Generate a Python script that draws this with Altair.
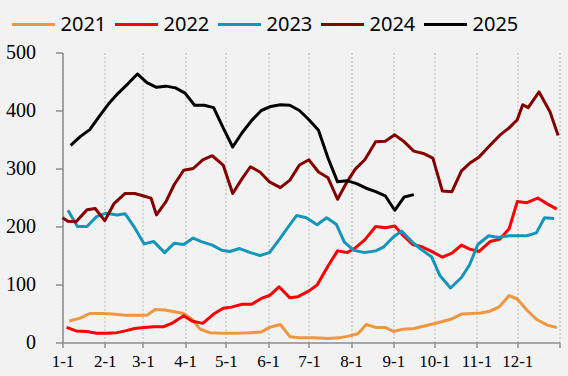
import altair as alt
import pandas as pd

years = ["2021", "2022", "2023", "2024", "2025"]
colors = ["#F0963F", "#FF0000", "#1495BA", "#850000", "#000000"]

# day of year (1-1 = 0) and values
d2021 = [5, 13, 20, 29, 37, 46, 54, 62, 68, 75, 82, 89, 95, 101, 108, 118, 128, 138, 146, 152, 160, 167, 174, 184, 195, 203, 210, 217, 223, 230, 237, 243, 250, 258, 265, 272, 277, 285, 293, 301, 307, 314, 321, 328, 334, 341, 348, 356, 363]
v2021 = [37, 42, 50, 50, 49, 47, 47, 47, 57, 56, 53, 50, 40, 23, 17, 16, 16, 17, 18, 26, 31, 10, 8, 8, 7, 8, 11, 15, 31, 26, 26, 19, 23, 24, 28, 32, 35, 40, 49, 50, 51, 54, 62, 81, 75, 56, 40, 30, 26]

d2022 = [3, 10, 18, 25, 32, 40, 46, 53, 60, 67, 74, 81, 89, 95, 103, 111, 118, 124, 132, 139, 146, 152, 159, 167, 173, 181, 187, 195, 202, 209, 215, 222, 230, 237, 244, 250, 257, 264, 271, 279, 286, 293, 299, 306, 314, 321, 328, 334, 341, 349, 356, 363]
v2022 = [26, 20, 19, 16, 16, 17, 20, 24, 26, 27, 27, 34, 46, 37, 33, 49, 59, 61, 66, 66, 76, 81, 96, 77, 79, 89, 99, 132, 158, 155, 163, 177, 200, 198, 201, 185, 169, 165, 157, 147, 154, 168, 161, 157, 174, 178, 196, 243, 241, 249, 239, 230]

d2023 = [4, 11, 18, 25, 32, 40, 46, 53, 60, 67, 75, 82, 89, 96, 102, 110, 117, 123, 130, 138, 145, 152, 159, 166, 172, 179, 187, 194, 201, 207, 214, 222, 230, 236, 243, 249, 257, 263, 271, 277, 285, 293, 299, 305, 313, 320, 328, 334, 341, 348, 354, 361]
v2023 = [228, 200, 200, 217, 223, 220, 222, 198, 170, 174, 155, 171, 169, 180, 174, 168, 159, 157, 162, 155, 150, 155, 177, 200, 219, 215, 203, 215, 204, 173, 159, 155, 158, 165, 182, 192, 173, 161, 148, 116, 94, 112, 134, 169, 184, 181, 184, 184, 184, 189, 215, 214]

d2024 = [0, 4, 10, 18, 24, 31, 38, 46, 53, 59, 65, 69, 76, 82, 89, 96, 103, 110, 118, 125, 132, 138, 145, 152, 160, 167, 174, 181, 188, 195, 202, 209, 215, 222, 230, 237, 244, 251, 258, 265, 272, 279, 286, 293, 299, 306, 314, 321, 328, 334, 338, 342, 350, 358, 364]
v2024 = [215, 209, 208, 229, 231, 210, 240, 257, 257, 253, 249, 220, 243, 272, 297, 300, 315, 322, 306, 257, 283, 303, 294, 277, 267, 280, 306, 315, 294, 284, 247, 277, 299, 315, 346, 347, 358, 346, 330, 326, 318, 261, 260, 296, 309, 320, 340, 357, 370, 384, 410, 405, 432, 398, 357]

d2025 = [6, 13, 20, 27, 34, 41, 48, 55, 62, 69, 76, 83, 90, 97, 104, 111, 118, 125, 132, 139, 146, 153, 160, 167, 174, 181, 188, 195, 202, 209, 216, 223, 230, 237, 244, 251, 258]
v2025 = [340, 355, 367, 390, 412, 430, 446, 463, 448, 440, 442, 439, 430, 409, 409, 405, 370, 337, 362, 383, 400, 407, 410, 409, 400, 384, 366, 318, 277, 279, 274, 266, 260, 253, 228, 251, 255]

tick_days = [0, 31, 59, 90, 120, 151, 181, 212, 243, 273, 304, 334, 365]
tick_labels = ["1-1", "2-1", "3-1", "4-1", "5-1", "6-1", "7-1", "8-1", "9-1", "10-1", "11-1", "12-1", ""]

rows = []
for yr, ds, vs in zip(years, [d2021, d2022, d2023, d2024, d2025], [v2021, v2022, v2023, v2024, v2025]):
    for d, v in zip(ds, vs):
        rows.append({"year": yr, "day": d, "value": v})
df = pd.DataFrame(rows)

label_expr = "[" + ",".join("'%s'" % t for t in tick_labels) + "][indexof([" + ",".join(str(t) for t in tick_days) + "], datum.value)]"

chart = alt.Chart(df).mark_line(strokeJoin="round", strokeCap="butt").encode(
    x=alt.X("day:Q", scale=alt.Scale(domain=[0, 365], nice=False, zero=False),
            axis=alt.Axis(values=tick_days, labelExpr=label_expr, title=None,
                          grid=True, gridDash=[2, 2], gridColor="#b8b8b8", gridWidth=1,
                          domainColor="#8c8c8c", tickColor="#8c8c8c", tickSize=5,
                          domainWidth=1.5, tickWidth=1.5,
                          labelFont="Liberation Serif", labelFontSize=17, labelColor="#000000",
                          labelPadding=6, labelFlush=False)),
    y=alt.Y("value:Q", scale=alt.Scale(domain=[0, 500], nice=False),
            axis=alt.Axis(values=[0, 100, 200, 300, 400, 500], title=None, grid=False,
                          domainColor="#8c8c8c", tickColor="#8c8c8c", tickSize=7,
                          domainWidth=1.5, tickWidth=1.5,
                          labelFont="Liberation Serif", labelFontSize=20, labelColor="#000000",
                          labelPadding=20)),
    color=alt.Color("year:N", scale=alt.Scale(domain=years, range=colors),
                    legend=alt.Legend(title=None, orient="none", direction="horizontal",
                                      legendX=-52, legendY=-51,
                                      symbolType="stroke", symbolSize=1849, symbolStrokeWidth=3,
                                      labelFont="Noto Sans", labelFontSize=20, labelColor="#000000",
                                      labelOffset=4, columnPadding=2, padding=0, columns=5)),
    strokeWidth=alt.StrokeWidth("year:N", scale=alt.Scale(domain=years, range=[3, 3, 3, 3, 4]), legend=None),
    order=alt.Order("day:Q"),
).properties(
    width=497, height=290,
    autosize=alt.AutoSizeParams(type="none"),
    padding={"left": 62.5, "top": 52.5, "right": 8.5, "bottom": 33.5},
    background="#f2f2f2",
).configure_view(stroke=None)

chart.save("out.html", embed_options={"renderer": "svg", "actions": False})
